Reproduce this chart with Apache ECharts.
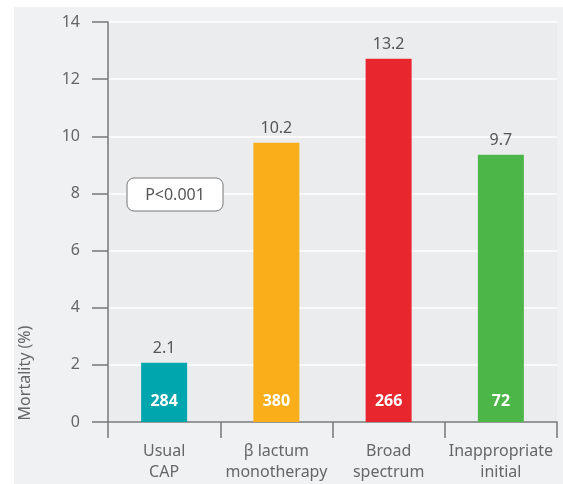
<!DOCTYPE html>
<html>
<head>
<meta charset="utf-8">
<script src="https://cdn.jsdelivr.net/npm/echarts@6/dist/echarts.min.js"></script>
<style>
  html, body { margin: 0; padding: 0; background: #fff; }
  #main { width: 563px; height: 484px; }
</style>
</head>
<body>
<div id="main"></div>
<script>
var myChart = echarts.init(document.getElementById('main'));

// categories / data
var groups = ['Usual\nCAP', '\u03b2 lactum\nmonotherapy', 'Broad\nspectrum', 'Inappropriate\ninitial'];
var mortality = [2.07, 9.77, 12.71, 9.35];          // bar heights as drawn
var mortalityText = ['2.1', '10.2', '13.2', '9.7']; // printed values
var patients = [284, 380, 266, 72];
var barColors = ['#00a6ad', '#f9ae1a', '#e8262d', '#4cb748'];
var yTicks = [0, 2, 4, 6, 8, 10, 12, 14];

var font = 'Noto Sans';

var option = {
    backgroundColor: '#ffffff',
    textStyle: { fontFamily: font },
    graphic: [
        {
            type: 'rect', z: -10,
            shape: { x: 14, y: 7, width: 560, height: 490 },
            style: { fill: '#f0f1f3' }
        },
        {
            type: 'text',
            x: 25, y: 373, rotation: Math.PI / 2,
            style: {
                text: 'Mortality (%)', fill: '#666', font: '16px "Noto Sans"',
                align: 'center', verticalAlign: 'middle'
            }
        },
        {
            type: 'rect', z: 50,
            shape: { x: 127, y: 178, width: 96, height: 33, r: 7 },
            style: { fill: '#ffffff', stroke: '#777', lineWidth: 1 }
        },
        {
            type: 'text', z: 51,
            x: 175, y: 195,
            style: {
                text: 'P<0.001', fill: '#555', font: '16px "Noto Sans"',
                align: 'center', verticalAlign: 'middle'
            }
        }
    ],
    grid: {
        left: 108, right: 6, top: 22, bottom: 62,
        show: true, backgroundColor: '#ebecee', borderWidth: 0
    },
    xAxis: {
        type: 'category',
        data: groups,
        axisLine: { lineStyle: { color: '#777', width: 1.5 } },
        axisTick: { show: true, length: 16, lineStyle: { color: '#777', width: 1.5 } },
        axisLabel: {
            interval: 0,
            color: '#666', fontSize: 16, lineHeight: 21, margin: 19, fontFamily: font
        }
    },
    yAxis: {
        type: 'value',
        min: 0, max: 14, interval: 2,
        axisLine: { show: true, lineStyle: { color: '#777', width: 1.5 } },
        axisTick: { show: true, length: 16, lineStyle: { color: '#777', width: 1.5 } },
        axisLabel: {
            color: '#666', fontSize: 16, margin: 28, fontFamily: font,
            formatter: function (v) { return yTicks.indexOf(v) >= 0 ? String(v) : ''; }
        },
        splitLine: { show: true, lineStyle: { color: '#ffffff', width: 1.5 } }
    },
    series: [
        {
            type: 'bar',
            barWidth: 46,
            data: mortality.map(function (v, i) {
                return { value: v, itemStyle: { color: barColors[i] } };
            }),
            label: {
                show: true, position: 'top', distance: 6,
                color: '#555', fontSize: 16, fontFamily: font,
                formatter: function (p) { return mortalityText[p.dataIndex]; }
            },
            z: 2
        },
        {
            type: 'bar',
            barWidth: 46,
            barGap: '-100%',
            data: mortality,
            itemStyle: { color: 'rgba(0,0,0,0)' },
            label: {
                show: true, position: 'insideBottom', distance: 13,
                color: '#ffffff', fontSize: 16, fontWeight: 'bold', fontFamily: font,
                formatter: function (p) { return String(patients[p.dataIndex]); }
            },
            z: 3
        }
    ]
};
myChart.setOption(option);
</script>
</body>
</html>
